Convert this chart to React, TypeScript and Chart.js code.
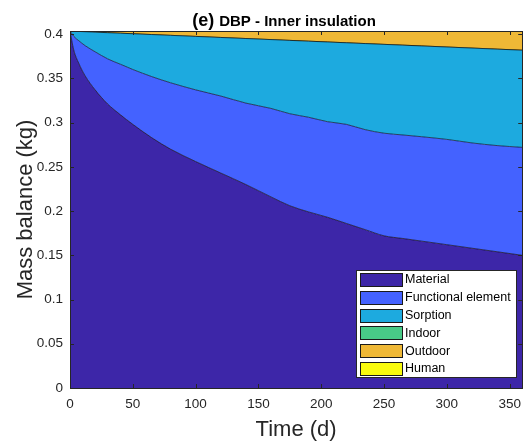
import React, { useEffect, useRef } from "react";
import { Chart, registerables } from "chart.js";

Chart.register(...registerables);

const titlePrefix = "(e)";
const titleText = "DBP - Inner insulation";
const xAxisTitle = "Time (d)";
const yAxisTitle = "Mass balance (kg)";

const xTickValues = [0, 50, 100, 150, 200, 250, 300, 350];
const yTickValues = [0, 0.05, 0.1, 0.15, 0.2, 0.25, 0.3, 0.35, 0.4];
const yTickLabels = ["0", "0.05", "0.1", "0.15", "0.2", "0.25", "0.3", "0.35", "0.4"];

const times = [0, 3, 7, 12, 20, 30, 40, 50, 65, 80, 100, 120, 140, 160, 175, 190, 205, 220, 235, 250, 265, 280, 300, 320, 340, 360];
const material = [0.4035, 0.382, 0.367, 0.353, 0.337, 0.321, 0.309, 0.298, 0.283, 0.27, 0.256, 0.243, 0.23, 0.216, 0.206, 0.199, 0.193, 0.186, 0.179, 0.172, 0.169, 0.166, 0.162, 0.158, 0.154, 0.15];
const functionalElement = [0, 0.0155, 0.0255, 0.034, 0.043, 0.051, 0.057, 0.062, 0.069, 0.075, 0.081, 0.087, 0.092, 0.1, 0.104, 0.107, 0.108, 0.112, 0.113, 0.116, 0.117, 0.118, 0.119, 0.119, 0.12, 0.122];
const sorption = [0, 0.0058, 0.0105, 0.0157, 0.0222, 0.0296, 0.035, 0.0404, 0.0475, 0.0536, 0.0604, 0.0662, 0.073, 0.0778, 0.0829, 0.086, 0.0901, 0.0922, 0.0973, 0.1004, 0.1015, 0.1026, 0.1044, 0.1072, 0.109, 0.1098];
const indoor = [0, 0, 0, 0, 0, 0, 0, 0, 0, 0, 0, 0, 0, 0, 0, 0, 0, 0, 0, 0, 0, 0, 0, 0, 0, 0];
const outdoor = [0, 0.0002, 0.0005, 0.0008, 0.0013, 0.0019, 0.0025, 0.0031, 0.004, 0.0049, 0.0061, 0.0073, 0.0085, 0.0097, 0.0106, 0.0115, 0.0124, 0.0133, 0.0142, 0.0151, 0.016, 0.0169, 0.0181, 0.0193, 0.0205, 0.0217];
const human = [0, 0, 0, 0, 0, 0, 0, 0, 0, 0, 0, 0, 0, 0, 0, 0, 0, 0, 0, 0, 0, 0, 0, 0, 0, 0];

const seriesNames = ["Material", "Functional element", "Sorption", "Indoor", "Outdoor", "Human"];
const seriesValues = [material, functionalElement, sorption, indoor, outdoor, human];
const seriesColors = ["#3D26A8", "#4462FF", "#1DAADF", "#48CB87", "#EFB836", "#F9FB0E"];

const FONT = "'Liberation Sans', Arial, Helvetica, sans-serif";
const AXIS_COLOR = "#262626";

const decorPlugin = {
  id: "matlabDecor",
  afterDatasetsDraw(chart: any) {
    const { ctx, chartArea: a, scales } = chart;
    ctx.save();
    ctx.strokeStyle = AXIS_COLOR;
    ctx.lineWidth = 1;
    const tl = 4;
    ctx.beginPath();
    for (const v of xTickValues) {
      const x = Math.round(scales.x.getPixelForValue(v)) + 0.5;
      ctx.moveTo(x, a.bottom);
      ctx.lineTo(x, a.bottom - tl);
      ctx.moveTo(x, a.top);
      ctx.lineTo(x, a.top + tl);
    }
    for (const v of yTickValues) {
      const y = Math.round(scales.y.getPixelForValue(v)) + 0.5;
      ctx.moveTo(a.left, y);
      ctx.lineTo(a.left + tl, y);
      ctx.moveTo(a.right, y);
      ctx.lineTo(a.right - tl, y);
    }
    ctx.stroke();
    ctx.strokeRect(Math.round(a.left) + 0.5, Math.round(a.top) + 0.5, Math.round(a.right - a.left), Math.round(a.bottom - a.top));
    ctx.restore();
  },
  afterDraw(chart: any) {
    const { ctx, chartArea: a } = chart;
    ctx.save();
    // legend
    const lx = 356, ly = 270, lw = 160, lh = 107;
    ctx.fillStyle = "#ffffff";
    ctx.fillRect(lx, ly, lw, lh);
    ctx.strokeStyle = AXIS_COLOR;
    ctx.lineWidth = 1;
    ctx.strokeRect(lx + 0.5, ly + 0.5, lw, lh);
    const rowH = 17.8;
    ctx.font = `12.5px ${FONT}`;
    ctx.textBaseline = "middle";
    ctx.textAlign = "left";
    chart.data.datasets.forEach((ds: any, i: number) => {
      const cy = ly + 9.5 + i * rowH;
      ctx.fillStyle = ds.backgroundColor;
      ctx.fillRect(360, Math.round(cy - 6.5), 42, 13);
      ctx.strokeStyle = "#1a1a1a";
      ctx.strokeRect(360.5, Math.round(cy - 6.5) + 0.5, 42, 13);
      ctx.fillStyle = "#000000";
      ctx.fillText(ds.label, 405, cy + 0.5);
    });
    // title
    ctx.fillStyle = "#000000";
    ctx.textBaseline = "alphabetic";
    ctx.font = `bold 18px ${FONT}`;
    const w1 = ctx.measureText(titlePrefix).width;
    ctx.font = `bold 15px ${FONT}`;
    const gap = 5;
    const w2 = ctx.measureText(titleText).width;
    const start = 284 - (w1 + gap + w2) / 2;
    ctx.font = `bold 18px ${FONT}`;
    ctx.fillText(titlePrefix, start, 25.5);
    ctx.font = `bold 15px ${FONT}`;
    ctx.fillText(titleText, start + w1 + gap, 25.5);
    // axis titles
    ctx.fillStyle = AXIS_COLOR;
    ctx.font = `22px ${FONT}`;
    ctx.textAlign = "center";
    ctx.fillText(xAxisTitle, (a.left + a.right) / 2, 436);
    ctx.translate(31.5, (a.top + a.bottom) / 2);
    ctx.rotate(-Math.PI / 2);
    ctx.fillText(yAxisTitle, 0, 0);
    ctx.restore();
  },
};

export default function App() {
  const ref = useRef<HTMLCanvasElement | null>(null);
  useEffect(() => {
    if (!ref.current) return;
    Chart.defaults.font.family = FONT;
    const datasets = seriesNames.map((name, i) => ({
      label: name,
      data: times.map((t, j) => ({ x: t, y: seriesValues[i][j] })),
      backgroundColor: seriesColors[i],
      borderColor: "rgba(0,0,0,0.75)",
      borderWidth: 0.8,
      pointRadius: 0,
      fill: i === 0 ? "origin" : "-1",
      cubicInterpolationMode: "monotone" as const,
    }));
    const chart = new Chart(ref.current, {
      type: "line",
      data: { datasets },
      options: {
        animation: false,
        responsive: false,
        layout: { padding: { top: 31, right: 3, left: 0, bottom: 0 } },
        plugins: { legend: { display: false }, tooltip: { enabled: false }, title: { display: false } },
        scales: {
          x: {
            type: "linear",
            min: 0,
            max: 360,
            grid: { display: false, drawTicks: false },
            border: { display: false },
            ticks: { stepSize: 50, includeBounds: false, padding: 8, color: AXIS_COLOR, font: { size: 13.5 }, maxRotation: 0 },
            afterBuildTicks: (s: any) => { s.ticks = xTickValues.map((v) => ({ value: v })); },
            afterFit: (s: any) => { s.height = 56; },
          },
          y: {
            type: "linear",
            stacked: true,
            min: 0,
            max: 0.4035,
            grid: { display: false, drawTicks: false },
            border: { display: false },
            ticks: {
              padding: 7,
              color: AXIS_COLOR,
              font: { size: 13.5 },
              includeBounds: false,
              callback: (v: any) => {
                const k = yTickValues.findIndex((t) => Math.abs(t - Number(v)) < 1e-9);
                return k >= 0 ? yTickLabels[k] : "";
              },
            },
            afterBuildTicks: (s: any) => { s.ticks = yTickValues.map((v) => ({ value: v })); },
            afterFit: (s: any) => { s.width = 70; },
          },
        },
      },
      plugins: [decorPlugin],
    } as any);
    return () => chart.destroy();
  }, []);
  return (
    <div style={{ position: "absolute", left: 0, top: 0, width: 529, height: 444, background: "#fff" }}>
      <canvas ref={ref} width={529} height={444} />
    </div>
  );
}
